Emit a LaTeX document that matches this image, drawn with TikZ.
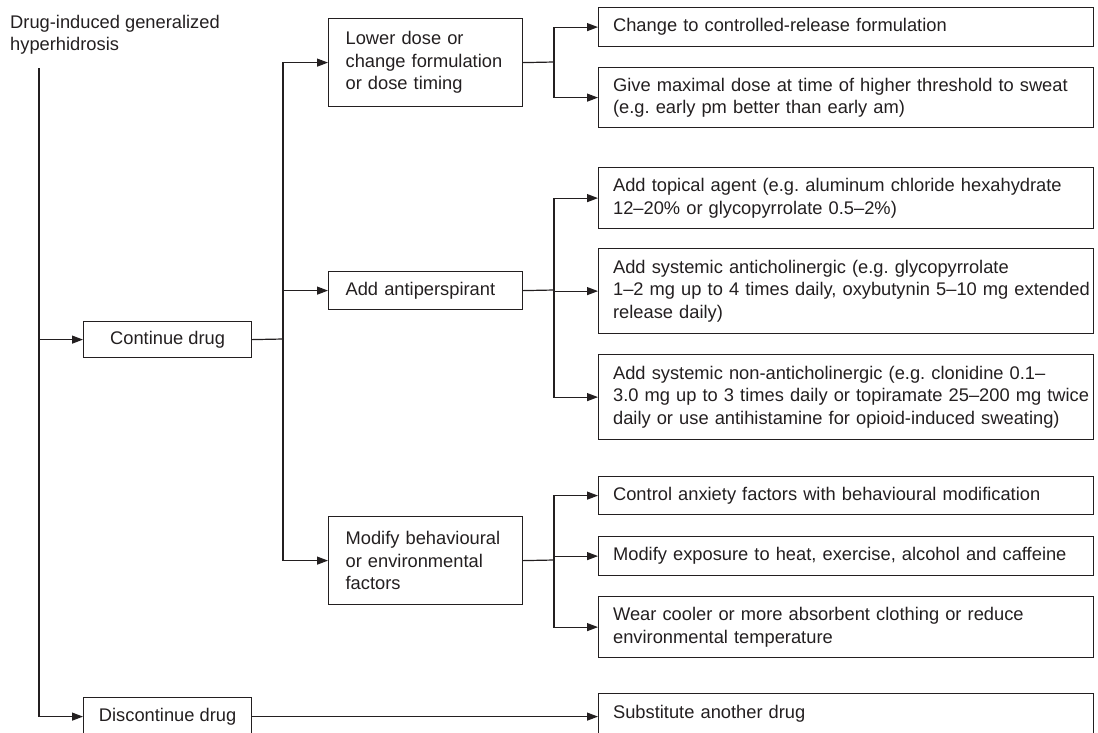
\documentclass[tikz,border=0pt]{standalone}
\usepackage{fontspec}
\setmainfont{Liberation Sans}
\usetikzlibrary{arrows.meta}
\definecolor{ink}{HTML}{231F20}
\hyphenpenalty=10000
\exhyphenpenalty=10000
\tikzset{
  txt/.style={text=ink, font=\fontsize{18.3}{22.5}\selectfont\frenchspacing},
  box/.style={txt, draw=ink, line width=1.2pt, rectangle, anchor=north west, inner ysep=2pt},
  drugbox/.style={box, minimum width=168pt, align=center},
  midbox/.style={box, text width=160pt, inner xsep=17pt, align=left},
  optbox/.style={box, text width=466pt, inner xsep=14.5pt, align=left},
  link/.style={draw=ink, line width=1.2pt},
  arrowlink/.style={link, -{Triangle[length=11pt,width=8pt]}}
}

\begin{document}
\begin{tikzpicture}[x=1pt, y=-1pt]
\clip (0,0) rectangle (1098,732);

\node[txt, anchor=north west, inner sep=0pt, align=left] (title) at (10,15) {Drug-induced generalized\\hyperhidrosis};

\node[drugbox, minimum height=36pt] (cont) at (83,321) {Continue drug};
\node[drugbox, minimum height=38pt] (disc) at (83,697) {Discontinue drug};

\node[midbox, minimum height=88pt] (lower) at (328,18) {Lower dose or\\change formulation\\or dose timing};
\node[midbox, minimum height=38pt] (antiper) at (328,271) {Add antiperspirant};
\node[midbox, minimum height=88pt] (behav) at (328,516) {Modify behavioural\\or environmental\\factors};

\node[optbox, minimum height=39pt] (change) at (598,7) {Change to controlled-release formulation};
\node[optbox, minimum height=60pt] (give) at (598,67) {Give maximal dose at time of higher threshold to sweat\\(e.g. early pm better than early am)};
\node[optbox, minimum height=61pt] (topical) at (598,167) {Add topical agent (e.g. aluminum chloride hexahydrate\\12--20\% or glycopyrrolate 0.5--2\%)};
\node[optbox, minimum height=85pt] (anticho) at (598,248) {Add systemic anticholinergic (e.g. glycopyrrolate\\\mbox{1--2 mg up to 4 times daily, oxybutynin 5--10 mg extended}\\release daily)};
\node[optbox, minimum height=85pt] (nonanti) at (598,354) {Add systemic non-anticholinergic (e.g. clonidine 0.1--\\\mbox{3.0 mg up to 3 times daily or topiramate 25--200 mg twice}\\daily or use antihistamine for opioid-induced sweating)};
\node[optbox, minimum height=38pt] (anxiety) at (598,476) {Control anxiety factors with behavioural modification};
\node[optbox, minimum height=39pt] (exposure) at (598,536) {Modify exposure to heat, exercise, alcohol and caffeine};
\node[optbox, minimum height=61pt] (clothing) at (598,596) {Wear cooler or more absorbent clothing or reduce\\environmental temperature};
\node[optbox, minimum height=40pt] (subst) at (598,693) {Substitute another drug};

\coordinate (trunk) at (39,68);
\coordinate (mid) at (283,339);
\coordinate (forkA) at (554,62);
\coordinate (forkB) at (554,290);
\coordinate (forkC) at (554,560);

\draw[arrowlink] (trunk) |- (cont.west);
\draw[arrowlink] (trunk) |- (disc.west);

\draw[link] (cont.east) -- (mid);
\draw[arrowlink] (mid) |- (lower.west);
\draw[arrowlink] (mid) |- (antiper.west);
\draw[arrowlink] (mid) |- (behav.west);

\draw[link] (lower.east) -- (forkA);
\draw[arrowlink] (forkA) |- (change.west);
\draw[arrowlink] (forkA) |- (give.west);

\draw[link] (antiper.east) -- (forkB);
\draw[arrowlink] (forkB) |- (topical.west);
\draw[arrowlink] (forkB) |- (anticho.west);
\draw[arrowlink] (forkB) |- (nonanti.west);

\draw[link] (behav.east) -- (forkC);
\draw[arrowlink] (forkC) |- (anxiety.west);
\draw[arrowlink] (forkC) |- (exposure.west);
\draw[arrowlink] (forkC) |- (clothing.west);

\draw[arrowlink] (disc.east) -- (disc.east -| subst.west);
\end{tikzpicture}
\end{document}
